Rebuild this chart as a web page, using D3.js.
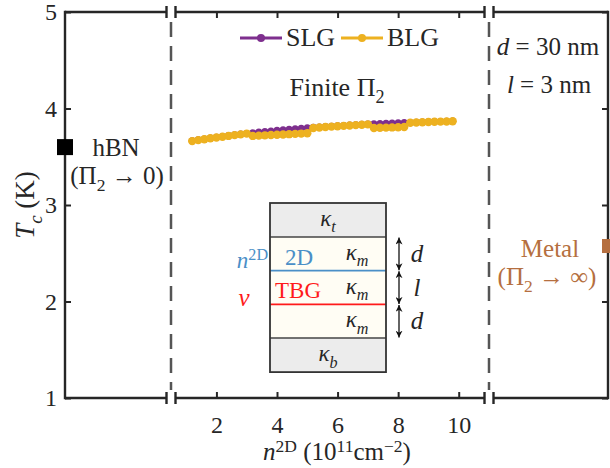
<!DOCTYPE html>
<html lang="en">
<head>
<meta charset="UTF-8">
<title>Tc vs n2D: SLG vs BLG</title>
<script src="https://d3js.org/d3.v7.min.js"></script>
<style>
    body { margin: 0; background: #fff; }
    svg text { font-family: "Liberation Serif", "DejaVu Serif", serif; fill: #262626; }
</style>
</head>
<body>
<div id="chart"></div>
<script>
// ---- data ----
const nValues = [1.2, 1.4, 1.6, 1.8, 2.0, 2.2, 2.4, 2.6, 2.8, 3.0,
                 3.2, 3.4, 3.6, 3.8, 4.0, 4.2, 4.4, 4.6, 4.8, 5.0,
                 5.2, 5.4, 5.6, 5.8, 6.0, 6.2, 6.4, 6.6, 6.8, 7.0,
                 7.2, 7.4, 7.6, 7.8, 8.0, 8.2, 8.4, 8.6, 8.8, 9.0,
                 9.2, 9.4, 9.6, 9.8];
const slgTc = [3.665, 3.675, 3.685, 3.694, 3.703, 3.711, 3.719, 3.727, 3.735, 3.742,
               3.749, 3.756, 3.762, 3.768, 3.774, 3.780, 3.785, 3.790, 3.795, 3.800,
               3.805, 3.809, 3.813, 3.817, 3.821, 3.825, 3.829, 3.832, 3.836, 3.839,
               3.842, 3.845, 3.847, 3.850, 3.852, 3.854, 3.856, 3.858, 3.860, 3.862,
               3.864, 3.866, 3.868, 3.870];
const blgTc = [3.662, 3.672, 3.682, 3.691, 3.700, 3.708, 3.716, 3.724, 3.732, 3.740,
               3.716, 3.719, 3.722, 3.725, 3.728, 3.731, 3.734, 3.737, 3.740, 3.743,
               3.798, 3.803, 3.808, 3.812, 3.816, 3.820, 3.824, 3.828, 3.832, 3.836,
               3.798, 3.800, 3.802, 3.804, 3.806, 3.808, 3.852, 3.855, 3.858, 3.860,
               3.862, 3.864, 3.866, 3.868];
const seriesNames = ["SLG", "BLG"];
const xTicks = [2, 4, 6, 8, 10];
const yTicks = [1, 2, 3, 4, 5];
const hbnTc = 3.6;      // Pi2 -> 0 limit
const metalTc = 2.575;  // Pi2 -> infinity limit
const insetLayers = ["t", "m", "m", "m", "b"];  // kappa subscripts, top to bottom
const insetSpacings = ["d", "l", "d"];

// ---- layout ----
const width = 610, height = 468;
const margin = { top: 12, right: 2, bottom: 70, left: 65 };
const leftW = 106, rightW = 119;
const gap = 4.5;
const ink = "#262626";

const color = d3.scaleOrdinal().domain(seriesNames).range(["#7e2f8e", "#edb120"]);
const blue = "#4a8fc7", red = "#ff1a1a", copper = "#b56f40";

const svg = d3.select("#chart").append("svg")
    .attr("width", width).attr("height", height);

const x = d3.scaleLinear().domain([0.5, 11])
    .range([margin.left + leftW, width - margin.right - rightW]);
const y = d3.scaleLinear().domain([1, 5])
    .range([height - margin.bottom, margin.top]);

const x0 = margin.left, x1 = width - margin.right;
const yTop = y(5), yBot = y(1);

// text with sub/superscripts
function mathText(g, tx, ty, parts, size, anchor, fill) {
    const t = g.append("text").attr("x", tx).attr("y", ty)
        .attr("text-anchor", anchor || "middle")
        .style("font-size", size + "px");
    if (fill) t.style("fill", fill);
    let shift = 0;
    parts.forEach(p => {
        const target = p.sub ? size * 0.28 : p.sup ? -size * 0.33 : 0;
        const ts = t.append("tspan").text(p.t).attr("dy", target - shift);
        if (p.sub || p.sup) ts.style("font-size", (size * 0.7) + "px");
        if (p.i) ts.style("font-style", "italic");
        if (fill) ts.style("fill", fill);
        shift = target;
    });
    return t;
}

// dashed separators
x.range().forEach(bx => {
    svg.append("line")
        .attr("x1", bx).attr("x2", bx)
        .attr("y1", yTop + 10).attr("y2", yBot - 8)
        .attr("stroke", "#555").attr("stroke-width", 2.5)
        .attr("stroke-dasharray", "15,9");
});

// axes with inward ticks
const yl = svg.append("g").attr("transform", `translate(${x0},0)`)
    .call(d3.axisLeft(y).tickValues(yTicks).tickSizeInner(-6).tickSizeOuter(0)
        .tickPadding(8).tickFormat(d3.format("d")));
const yr = svg.append("g").attr("transform", `translate(${x1},0)`)
    .call(d3.axisRight(y).tickValues(yTicks).tickSizeInner(-6).tickSizeOuter(0).tickFormat(""));
const xb = svg.append("g").attr("transform", `translate(0,${yBot})`)
    .call(d3.axisBottom(x).tickValues(xTicks).tickSizeInner(-6).tickSizeOuter(0)
        .tickPadding(18).tickFormat(d3.format("d")));
const xt = svg.append("g").attr("transform", `translate(0,${yTop})`)
    .call(d3.axisTop(x).tickValues(xTicks).tickSizeInner(-6).tickSizeOuter(0).tickFormat(""));

[yl, yr, xb, xt].forEach(a => {
    a.select(".domain").remove();
    a.selectAll(".tick line").attr("stroke", ink).attr("stroke-width", 2);
    a.selectAll(".tick text").style("font-size", "24px").attr("fill", ink)
        .style("font-family", '"Liberation Serif", serif');
});

// frame with broken top/bottom
const [b0, b1] = x.range();
const segs = [[x0, b0 - gap], [b0 + gap, b1 - gap], [b1 + gap, x1]];
[yTop, yBot].forEach(yy => {
    segs.forEach(s => {
        svg.append("line").attr("x1", s[0]).attr("x2", s[1])
            .attr("y1", yy).attr("y2", yy)
            .attr("stroke", ink).attr("stroke-width", 2.4);
    });
    [b0, b1].forEach(bx => {
        [-gap, gap].forEach(o => {
            svg.append("line").attr("x1", bx + o).attr("x2", bx + o)
                .attr("y1", yy - 6).attr("y2", yy + 6)
                .attr("stroke", ink).attr("stroke-width", 2.4);
        });
    });
});
[x0, x1].forEach(xx => {
    svg.append("line").attr("x1", xx).attr("x2", xx)
        .attr("y1", yTop - 1.2).attr("y2", yBot + 1.2)
        .attr("stroke", ink).attr("stroke-width", 2.4);
});

// series
const series = [
    { name: "SLG", values: slgTc, r: 3.5, w: 3 },
    { name: "BLG", values: blgTc, r: 4.2, w: 3 }
];
const line = d3.line().x((d, i) => x(nValues[i])).y(d => y(d));
series.forEach(s => {
    svg.append("path").datum(s.values)
        .attr("fill", "none").attr("stroke", color(s.name))
        .attr("stroke-width", s.w).attr("d", line);
    svg.append("g").selectAll("circle").data(s.values).enter().append("circle")
        .attr("cx", (d, i) => x(nValues[i])).attr("cy", d => y(d))
        .attr("r", s.r).attr("fill", color(s.name));
});

// limit markers
svg.append("rect").attr("x", x0 - 8).attr("y", y(hbnTc) - 8)
    .attr("width", 16).attr("height", 16).attr("fill", "#000");
svg.append("rect").attr("x", x1 - 6).attr("y", y(metalTc) - 7)
    .attr("width", 14).attr("height", 14).attr("fill", copper);

// legend
seriesNames.forEach((name, i) => {
    const lx = 240 + i * 101, ly = 38;
    svg.append("line").attr("x1", lx).attr("x2", lx + 42)
        .attr("y1", ly).attr("y2", ly)
        .attr("stroke", color(name)).attr("stroke-width", 3);
    svg.append("circle").attr("cx", lx + 21).attr("cy", ly).attr("r", 4)
        .attr("fill", color(name));
    mathText(svg, lx + 46, ly + 8, [{ t: name }], 26, "start");
});

// annotations
mathText(svg, 337, 96, [{ t: "Finite Π" }, { t: "2", sub: 1 }], 26);
mathText(svg, 548, 55, [{ t: "d", i: 1 }, { t: " = 30 nm" }], 25);
mathText(svg, 549, 93, [{ t: "l", i: 1 }, { t: " = 3 nm" }], 25);
mathText(svg, 116, 156, [{ t: "hBN" }], 25);
mathText(svg, 117, 184, [{ t: "(Π" }, { t: "2", sub: 1 }, { t: " → 0)" }], 25);
mathText(svg, 550, 257, [{ t: "Metal" }], 25, "middle", copper);
mathText(svg, 547, 285, [{ t: "(Π" }, { t: "2", sub: 1 }, { t: " → ∞)" }], 25, "middle", copper);

// axis titles
mathText(svg, 337, 460, [{ t: "n", i: 1 }, { t: "2D", sup: 1 }, { t: " (10" },
    { t: "11", sup: 1 }, { t: "cm" }, { t: "−2", sup: 1 }, { t: ")" }], 25);
mathText(svg, 0, 0, [{ t: "T", i: 1 }, { t: "c", i: 1, sub: 1 }, { t: " (K)" }], 27)
    .attr("transform", `translate(34,${(yTop + yBot) / 2}) rotate(-90)`);

// ---- inset: layer stack ----
const inset = svg.append("g");
const ix0 = 270, ix1 = 386, iTop = 203, outerH = 34, innerH = 33.7;
const edges = [iTop];
insetLayers.forEach((k, i) => {
    const h = (i === 0 || i === insetLayers.length - 1) ? outerH : innerH;
    edges.push(edges[i] + h);
});
insetLayers.forEach((k, i) => {
    const outer = k !== "m";
    inset.append("rect").attr("x", ix0).attr("y", edges[i])
        .attr("width", ix1 - ix0).attr("height", edges[i + 1] - edges[i])
        .attr("fill", outer ? "#ececec" : "#fffdf4");
    const cx = outer ? (ix0 + ix1) / 2 : 357;
    mathText(inset, cx, (edges[i] + edges[i + 1]) / 2 + 6,
        [{ t: "κ", i: 1 }, { t: k, i: 1, sub: 1 }], 23);
});
inset.append("line").attr("x1", ix0).attr("x2", ix1)
    .attr("y1", edges[1]).attr("y2", edges[1]).attr("stroke", "#444").attr("stroke-width", 1.5);
inset.append("line").attr("x1", ix0).attr("x2", ix1)
    .attr("y1", edges[4]).attr("y2", edges[4]).attr("stroke", "#444").attr("stroke-width", 1.5);
inset.append("line").attr("x1", ix0).attr("x2", ix1)
    .attr("y1", edges[2]).attr("y2", edges[2]).attr("stroke", blue).attr("stroke-width", 1.8);
inset.append("line").attr("x1", ix0).attr("x2", ix1)
    .attr("y1", edges[3]).attr("y2", edges[3]).attr("stroke", red).attr("stroke-width", 1.8);
inset.append("rect").attr("x", ix0).attr("y", iTop)
    .attr("width", ix1 - ix0).attr("height", edges[5] - iTop)
    .attr("fill", "none").attr("stroke", "#333").attr("stroke-width", 1.8);

mathText(inset, 285, edges[2] - 6, [{ t: "2D" }], 23, "start", blue);
mathText(inset, 275, edges[3] - 6, [{ t: "TBG" }], 23, "start", red);
mathText(inset, 268, edges[2] - 3, [{ t: "n", i: 1 }, { t: "2D", sup: 1 }], 23, "end", blue);
mathText(inset, 244, edges[3] + 2, [{ t: "ν", i: 1 }], 25, "middle", red);

// spacing arrows
const defs = svg.append("defs");
defs.append("marker").attr("id", "ah").attr("viewBox", "0 0 10 10")
    .attr("refX", 10).attr("refY", 5).attr("markerWidth", 7).attr("markerHeight", 7)
    .attr("markerUnits", "userSpaceOnUse").attr("orient", "auto-start-reverse")
    .append("path").attr("d", "M0,0 L10,5 L0,10 L3,5 Z").attr("fill", "#111");
insetSpacings.forEach((lab, i) => {
    const ya = edges[i + 1], yb = edges[i + 2];
    inset.append("line").attr("x1", 399).attr("x2", 399)
        .attr("y1", ya + 0.5).attr("y2", yb - 0.5)
        .attr("stroke", "#111").attr("stroke-width", 1.3)
        .attr("marker-start", "url(#ah)").attr("marker-end", "url(#ah)");
    mathText(inset, 417, (ya + yb) / 2 + 8, [{ t: lab, i: 1 }], 25);
});
</script>
</body>
</html>
